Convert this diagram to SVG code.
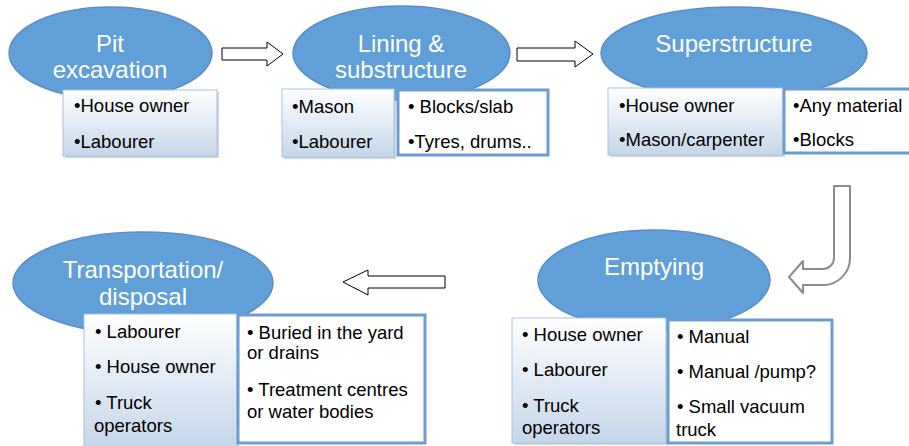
<svg xmlns="http://www.w3.org/2000/svg" width="909" height="446" viewBox="0 0 909 446">
<defs>
<linearGradient id="lg" x1="0" y1="0" x2="0" y2="1">
<stop offset="0" stop-color="#ffffff"/>
<stop offset="1" stop-color="#c5d6ea"/>
</linearGradient>
<style>
.ell{fill:#619fd9;stroke:#5a8ec4;stroke-width:1.5}
.et{font-family:"Liberation Sans",Arial,sans-serif;font-size:24px;fill:#ffffff;text-anchor:middle}
.bt{font-family:"Liberation Sans",Arial,sans-serif;font-size:18.5px;fill:#000000}
.lb{fill:url(#lg);stroke:#a8c2e0;stroke-width:1}
.sh{fill:#9aa7b5;opacity:0.45}
.rb{fill:#ffffff;stroke:#6b9dd2;stroke-width:3}
.ar{fill:#ffffff;stroke:#000000;stroke-width:1}
.ag{fill:#ffffff;stroke:#8c8c8c;stroke-width:2;stroke-linejoin:round}
</style>
</defs>
<g id="connectors">
<path class="ar" d="M222,48 H267 V42 L283,54 L267,66 V60 H222 Z"/>
<path class="ar" d="M517,48 H575 V41 L593,54 L575,67 V61 H517 Z"/>
<path class="ar" d="M445,276 H368 V270 L343,282 L368,295 V288 H445 Z"/>
<path class="ag" d="M834,186 H850 V258 A27,27 0 0 1 823,285 H803 V293 L789,277 L803,261 V269 H823 A11,11 0 0 0 834,258 Z"/>
</g>
<g id="pit">
<ellipse class="ell" cx="110.5" cy="53" rx="101.5" ry="46"/>
<text class="et" x="110" y="52">Pit</text>
<text class="et" x="110" y="78">excavation</text>
<rect class="sh" x="65" y="92" width="154" height="66"/>
<rect class="lb" x="63" y="90" width="154" height="66"/>
<text class="bt" x="74" y="112">•House owner</text>
<text class="bt" x="74" y="148">•Labourer</text>
</g>
<g id="lining">
<ellipse class="ell" cx="401.5" cy="53" rx="108.5" ry="47"/>
<text class="et" x="401" y="52">Lining &amp;</text>
<text class="et" x="401" y="78">substructure</text>
<rect class="sh" x="284" y="91" width="112" height="68"/>
<rect class="lb" x="282" y="89" width="112" height="68"/>
<text class="bt" x="292" y="113">•Mason</text>
<text class="bt" x="292" y="148">•Labourer</text>
<rect class="rb" x="398" y="90" width="150" height="65"/>
<text class="bt" x="408" y="113">• Blocks/slab</text>
<text class="bt" x="408" y="148">•Tyres, drums..</text>
</g>
<g id="superstructure">
<ellipse class="ell" cx="734" cy="53" rx="133" ry="46"/>
<text class="et" x="734" y="52">Superstructure</text>
<rect class="sh" x="610" y="90" width="175" height="67"/>
<rect class="lb" x="608" y="88" width="175" height="67"/>
<text class="bt" x="619" y="112">•House owner</text>
<text class="bt" x="619" y="146">•Mason/carpenter</text>
<rect class="rb" x="784" y="89" width="130" height="64"/>
<text class="bt" x="793" y="112">•Any material</text>
<text class="bt" x="793" y="146">•Blocks</text>
</g>
<g id="emptying">
<ellipse class="ell" cx="654" cy="280" rx="116" ry="50"/>
<text class="et" x="654" y="275">Emptying</text>
<rect class="sh" x="514" y="320" width="154" height="125"/>
<rect class="lb" x="512" y="318" width="154" height="125"/>
<text class="bt" x="522" y="341">• House owner</text>
<text class="bt" x="522" y="376">• Labourer</text>
<text class="bt" x="522" y="412">• Truck</text>
<text class="bt" x="522" y="434">operators</text>
<rect class="rb" x="668" y="320" width="164" height="123"/>
<text class="bt" x="677" y="343">• Manual</text>
<text class="bt" x="677" y="378">• Manual /pump?</text>
<text class="bt" x="677" y="413">• Small vacuum</text>
<text class="bt" x="676" y="436">truck</text>
</g>
<g id="transportation">
<ellipse class="ell" cx="143" cy="283" rx="130" ry="51"/>
<text class="et" x="143" y="278">Transportation/</text>
<text class="et" x="143" y="305">disposal</text>
<rect class="sh" x="86" y="316" width="153" height="132"/>
<rect class="lb" x="84" y="314" width="153" height="134"/>
<text class="bt" x="95" y="338">• Labourer</text>
<text class="bt" x="95" y="373">• House owner</text>
<text class="bt" x="95" y="409">• Truck</text>
<text class="bt" x="94" y="432">operators</text>
<rect class="rb" x="238" y="315" width="187" height="128"/>
<text class="bt" x="247" y="339">• Buried in the yard</text>
<text class="bt" x="247" y="359">or drains</text>
<text class="bt" x="247" y="396">• Treatment centres</text>
<text class="bt" x="247" y="418">or water bodies</text>
</g>
</svg>
